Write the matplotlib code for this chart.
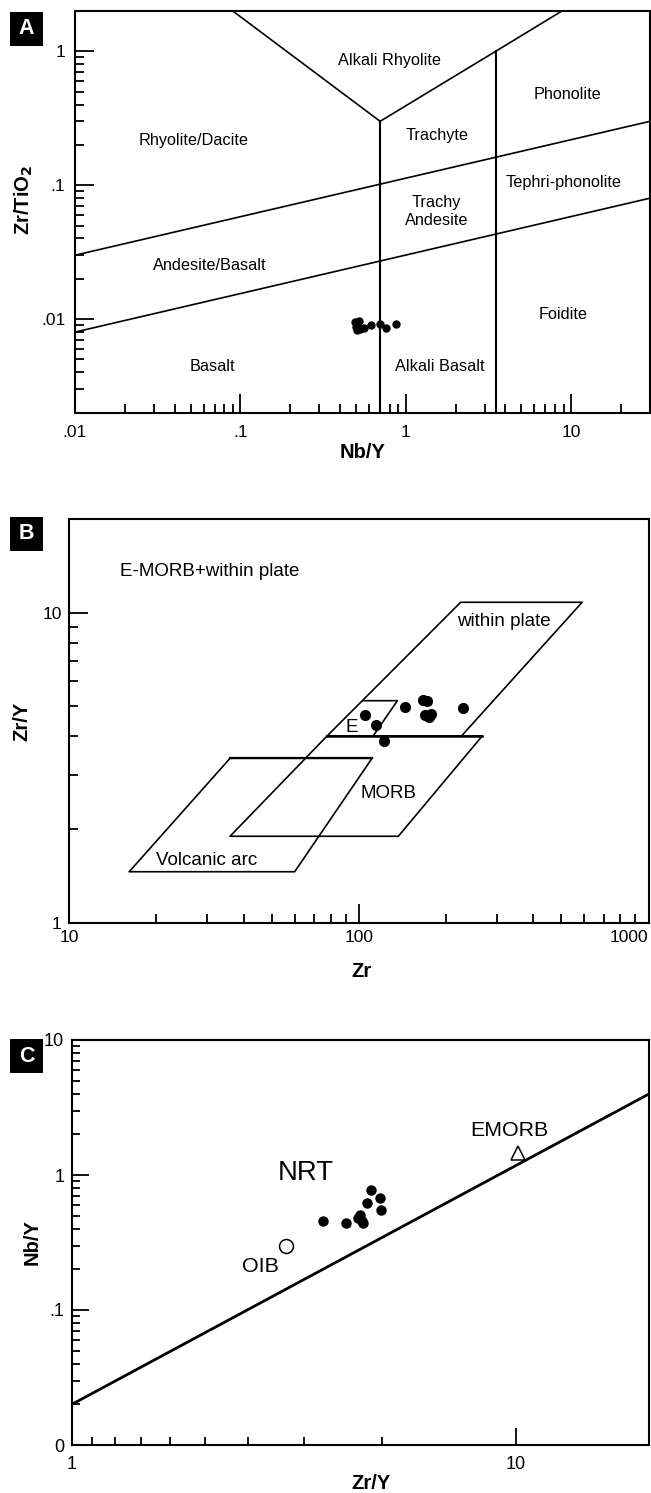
import matplotlib
matplotlib.use("Agg")
import matplotlib.pyplot as plt
from matplotlib.patches import Rectangle
from matplotlib.ticker import FixedLocator, FixedFormatter, NullFormatter

plt.rcParams["font.family"] = ["Liberation Sans", "DejaVu Sans"]

W, H = 651, 1493

# ---------------- panel A: Zr/TiO2 vs Nb/Y ----------------
a_nby = [0.493, 0.509, 0.505, 0.524, 0.561, 0.616, 0.698, 0.763, 0.869, 0.50, 0.53]
a_zrti = [0.00944, 0.00892, 0.00833, 0.0096, 0.00857, 0.00897, 0.00922, 0.00857, 0.00918, 0.0087, 0.0085]

a_upper_x, a_upper_y = [0.01, 30], [0.03, 0.3]
a_lower_x, a_lower_y = [0.01, 30], [0.008, 0.08]
a_vleft_x, a_vleft_y = [0.09, 0.7], [2.0, 0.3]
a_vright_x, a_vright_y = [0.7, 3.5, 8.8], [0.3, 1.0, 2.0]
a_stem1_x, a_stem1_y = [0.7, 0.7], [0.002, 0.3]
a_stem2_x, a_stem2_y = [3.5, 3.5], [0.002, 1.0]

a_names = ["Rhyolite/Dacite", "Alkali Rhyolite", "Phonolite", "Trachyte", "Tephri-phonolite",
           "Trachy\nAndesite", "Andesite/Basalt", "Foidite", "Basalt", "Alkali Basalt"]
a_name_x = [0.052, 0.80, 9.46, 1.54, 8.95, 1.54, 0.065, 8.95, 0.068, 1.60]
a_name_y = [0.215, 0.848, 0.473, 0.234, 0.105, 0.0638, 0.025, 0.0109, 0.00442, 0.00443]

# ---------------- panel B: Zr/Y vs Zr ----------------
b_zr = [105, 114.8, 121.9, 144.5, 166.7, 172.2, 169.4, 178, 229.6, 174]
b_zry = [4.69, 4.35, 3.85, 4.98, 5.23, 5.2, 4.69, 4.72, 4.91, 4.62]

b_wpb_x = [77.6, 226, 590, 224.5, 77.6]
b_wpb_y = [4.0, 4.0, 10.8, 10.8, 4.0]
b_morb_x = [77.6, 266.5, 136.8, 35.9, 77.6]
b_morb_y = [4.0, 4.0, 1.90, 1.90, 4.0]
b_arc_x = [35.9, 111, 60, 16.1, 35.9]
b_arc_y = [3.39, 3.39, 1.46, 1.46, 3.39]
b_e_x = [103.3, 135.8, 112]
b_e_y = [5.2, 5.2, 4.0]

# ---------------- panel C: Nb/Y vs Zr/Y ----------------
c_zry = [3.68, 4.14, 4.42, 4.46, 4.52, 4.50, 4.63, 4.73, 4.94, 4.96]
c_nby = [0.456, 0.441, 0.48, 0.505, 0.438, 0.46, 0.624, 0.774, 0.679, 0.551]
c_line_x, c_line_y = [1, 20], [0.02, 4.0]
c_oib = (3.03, 0.298)
c_emorb = (10.1, 1.46)


def decade_minors(start, stop, lo, hi):
    out = []
    d = start
    while d <= stop:
        out += [k * d for k in range(2, 10) if lo < k * d <= hi]
        d *= 10
    return out


def style(ax, xlim, ylim, xmaj, xlab, xmin, ymaj, ylab, ymin, xpad, ypad, mlen, nlen, lsize=12.5):
    ax.set_xscale("log")
    ax.set_yscale("log")
    ax.set_xlim(*xlim)
    ax.set_ylim(*ylim)
    ax.xaxis.set_major_locator(FixedLocator(xmaj))
    ax.xaxis.set_major_formatter(FixedFormatter(xlab))
    ax.xaxis.set_minor_locator(FixedLocator(xmin))
    ax.xaxis.set_minor_formatter(NullFormatter())
    ax.yaxis.set_major_locator(FixedLocator(ymaj))
    ax.yaxis.set_major_formatter(FixedFormatter(ylab))
    ax.yaxis.set_minor_locator(FixedLocator(ymin))
    ax.yaxis.set_minor_formatter(NullFormatter())
    ax.tick_params(which="both", direction="in", top=False, right=False, width=1.3,
                   labelsize=lsize, color="black")
    ax.tick_params(which="major", length=mlen)
    ax.tick_params(which="minor", length=nlen)
    ax.tick_params(axis="x", which="major", pad=xpad)
    ax.tick_params(axis="y", which="major", pad=ypad)
    for s in ax.spines.values():
        s.set_linewidth(1.5)


def panel_tag(fig, letter, x0, y0, x1, y1):
    fig.add_artist(Rectangle((x0 / W, 1 - y1 / H), (x1 - x0) / W, (y1 - y0) / H,
                             transform=fig.transFigure, facecolor="black", edgecolor="none"))
    fig.text((x0 + x1) / 2 / W, 1 - (y0 + y1) / 2 / H, letter, color="white", fontsize=15.5,
             fontweight="bold", ha="center", va="center")


def axis_labels(ax, xl, yl, xpos, ypos, size=14.5):
    ax.set_xlabel(xl, fontsize=size, fontweight="bold")
    ax.xaxis.set_label_coords(*xpos)
    ax.xaxis.label.set_va("center")
    ax.set_ylabel(yl, fontsize=size, fontweight="bold")
    ax.yaxis.set_label_coords(*ypos)
    ax.yaxis.label.set_va("center")


fig = plt.figure(figsize=(W / 100, H / 100), dpi=100)

# ---- A ----
axA = fig.add_axes([75 / W, 1 - 412.7 / H, 575 / W, 401.7 / H])
style(axA, (0.01, 30), (0.002, 2),
      [0.01, 0.1, 1, 10], [".01", ".1", "1", "10"], decade_minors(0.01, 10, 0.01, 30),
      [0.01, 0.1, 1], [".01", ".1", "1"], decade_minors(0.001, 1, 0.002, 2),
      9, 7, 14, 6.5)
lw = 1.2
axA.plot(a_upper_x, a_upper_y, color="black", lw=lw)
axA.plot(a_lower_x, a_lower_y, color="black", lw=lw)
axA.plot(a_vleft_x, a_vleft_y, color="black", lw=lw)
axA.plot(a_vright_x, a_vright_y, color="black", lw=lw)
axA.plot(a_stem1_x, a_stem1_y, color="black", lw=1.5)
axA.plot(a_stem2_x, a_stem2_y, color="black", lw=1.5)
for name, x, y in zip(a_names, a_name_x, a_name_y):
    axA.text(x, y, name, fontsize=11.7, ha="center", va="center", linespacing=1.25)
axA.plot(a_nby, a_zrti, "o", color="black", ms=5, zorder=5)
axis_labels(axA, "Nb/Y", "Zr/TiO$_\\mathbf{2}$", (0.5, -0.100), (-0.089, 0.53))
panel_tag(fig, "A", 10, 12, 43, 46)

# ---- B ----
axB = fig.add_axes([69.3 / W, 1 - 922.7 / H, 579.2 / W, 403.4 / H])
style(axB, (10, 1000), (1, 20),
      [10, 100, 1000], ["10", "100", "1000"], decade_minors(10, 100, 10, 1000),
      [1, 10], ["1", "10"], decade_minors(1, 10, 1, 20),
      5, 5.5, 14, 6.5)
axB.get_xticklabels()[-1].set_ha("right")
axB.plot(b_wpb_x, b_wpb_y, color="black", lw=1.2)
axB.plot(b_morb_x, b_morb_y, color="black", lw=1.2)
axB.plot(b_arc_x, b_arc_y, color="black", lw=1.2)
axB.plot(b_e_x, b_e_y, color="black", lw=1.2)
axB.plot([b_morb_x[0], b_morb_x[1]], [b_morb_y[0], b_morb_y[1]], color="black", lw=1.8)
axB.plot([b_arc_x[0], b_arc_x[1]], [b_arc_y[0], b_arc_y[1]], color="black", lw=1.6)
axB.text(15.0, 13.6, "E-MORB+within plate", fontsize=13.5, ha="left", va="center")
axB.text(317, 9.33, "within plate", fontsize=13.5, ha="center", va="center")
axB.text(94.6, 4.26, "E", fontsize=13.5, ha="center", va="center")
axB.text(127, 2.61, "MORB", fontsize=13.5, ha="center", va="center")
axB.text(29.9, 1.59, "Volcanic arc", fontsize=13.5, ha="center", va="center")
axB.plot(b_zr, b_zry, "o", color="black", ms=7, zorder=5)
axis_labels(axB, "Zr", "Zr/Y", (0.504, -0.122), (-0.082, 0.5))
panel_tag(fig, "B", 10, 516.7, 43, 550.7)

# ---- C ----
axC = fig.add_axes([71.8 / W, 1 - 1445 / H, 577.6 / W, 405 / H])
style(axC, (1, 20), (0.01, 10),
      [1, 10], ["1", "10"], [10 / k for k in range(2, 10)],
      [0.01, 0.1, 1, 10], ["0", ".1", "1", "10"], decade_minors(0.01, 1, 0.01, 10),
      8, 5.5, 12.5, 6, lsize=13)
axC.plot(c_line_x, c_line_y, color="black", lw=2)
axC.plot(c_zry, c_nby, "o", color="black", ms=6.5, zorder=5)
axC.plot(*c_oib, "o", mfc="white", mec="black", mew=1.1, ms=10)
axC.plot(*c_emorb, "^", mfc="white", mec="black", mew=1.1, ms=10)
axC.text(2.66, 0.209, "OIB", fontsize=15.4, ha="center", va="center")
axC.text(9.68, 2.15, "EMORB", fontsize=15.4, ha="center", va="center")
axC.text(3.36, 1.04, "NRT", fontsize=19.8, ha="center", va="center")
axis_labels(axC, "Zr/Y", "Nb/Y", (0.518, -0.094), (-0.069, 0.5))
panel_tag(fig, "C", 10, 1039.3, 43, 1073.3)

fig.savefig("out.png", dpi=100)
